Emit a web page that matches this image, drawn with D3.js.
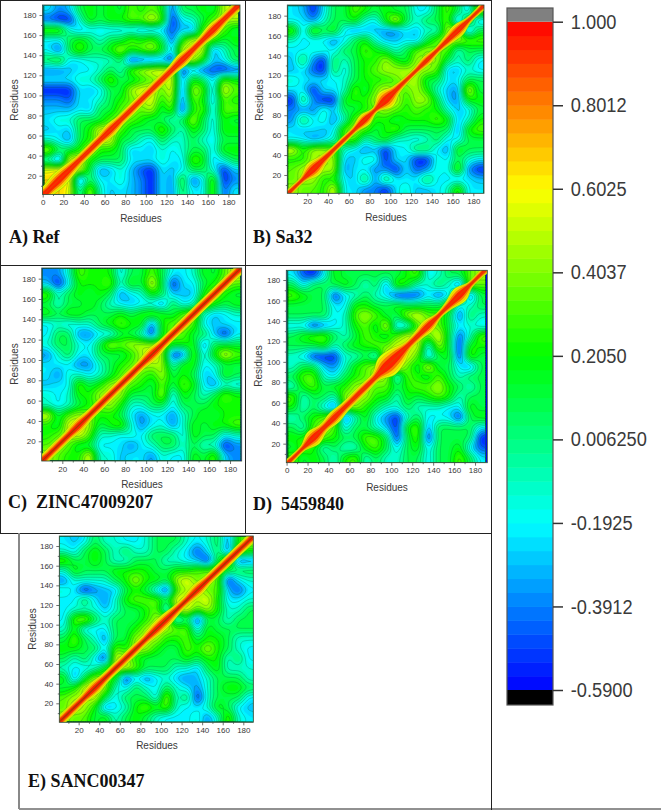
<!DOCTYPE html>
<html>
<head>
<meta charset="utf-8">
<title>Residue cross-correlation maps</title>
<script src="https://cdn.jsdelivr.net/npm/d3@7"></script>
<style>
  html, body { margin: 0; padding: 0; background: #fff; }
  svg { display: block; }
  text { font-family: "Liberation Sans", Arial, sans-serif; fill: #3a3a3a; }
  .caption { font-family: "Liberation Serif", "Times New Roman", serif; font-weight: bold; font-size: 18px; fill: #111; }
  .axis text { font-size: 8px; }
  .axis path, .axis line { stroke: #333; stroke-width: 0.7; }
  .axis-title { font-size: 10px; }
  .rule { stroke: #222; stroke-width: 1; }
</style>
</head>
<body>
<svg id="chart" width="661" height="810" viewBox="0 0 661 810"></svg>
<script>
"use strict";

// shade, one row per 10 residues (1-10 first), lower triangle only
const ref_rows = [
  [6],
  [6,6],
  [5,6,6],
  [0,-4,5,5],
  [4,1,1,2,5],
  [0,-1,-3,1,2,5],
  [-2,-1,-2,1,2,5,4],
  [-1,0,0,1,1,1,3,4],
  [-2,-2,-2,-1,-2,1,1,3,4],
  [-3,-3,-4,-1,-1,0,1,2,3,4],
  [-5,-5,-5,-1,-2,-1,1,1,4,5,5],
  [-1,-1,-1,0,0,1,3,1,1,2,3,4],
  [-3,-3,-2,-1,-1,0,1,0,3,4,5,5,5],
  [1,2,-1,-1,0,0,0,1,-5,-4,-4,-3,-5,4],
  [-1,-4,1,3,1,1,2,4,2,3,4,2,-2,5,4],
  [-1,-1,1,2,1,0,1,1,3,2,3,1,-4,2,5,4],
  [3,3,0,-2,-1,-1,-1,-1,-1,-2,-2,-2,-4,-2,-3,3,5],
  [-4,-5,-5,0,2,1,2,2,3,3,5,3,-5,-1,0,1,3,4],
  [-1,-3,-2,1,2,1,2,1,3,2,3,2,-4,1,1,2,1,4,5]
];
const sa32_rows = [
  [4],
  [3,4],
  [3,4,5],
  [2,2,4,4],
  [5,2,4,4,3],
  [-1,-1,-3,-2,0,3],
  [-1,-2,-1,-2,-1,3,4],
  [-3,1,-1,0,-3,0,3,5],
  [-3,-3,-3,0,-2,1,1,2,3],
  [-5,1,-3,-5,-5,2,2,2,4,5],
  [-1,-1,-5,-1,-1,0,3,1,3,5,3],
  [0,-1,-1,-1,-1,0,1,2,2,2,3,4],
  [-2,-1,-4,-5,1,-1,1,2,3,4,4,4,4],
  [-2,1,-3,-5,1,0,1,2,2,4,2,1,4,3],
  [-1,-1,0,0,-1,1,1,3,2,1,0,1,3,4,3],
  [0,-1,-1,-1,-3,-1,1,2,0,-2,-2,-1,-2,1,3,4],
  [3,-2,3,1,2,-1,-3,-2,-2,-3,-3,-1,-2,0,0,4,4],
  [-1,-1,-3,0,1,1,2,0,-1,2,5,1,0,1,1,3,-3,3],
  [-1,-2,-5,-1,1,1,3,2,1,2,1,1,-1,-1,1,3,1,-2,4]
];
const zinc_rows = [
  [4],
  [3,4],
  [2,3,4],
  [2,1,5,5],
  [5,1,3,4,3],
  [0,-1,0,1,2,3],
  [0,-1,0,2,2,4,4],
  [-2,-1,-1,3,1,2,4,4],
  [-1,-3,0,0,-1,0,1,3,4],
  [-1,-1,-1,-3,-3,0,1,2,3,4],
  [-3,0,1,-1,-1,1,1,1,2,4,5],
  [0,1,1,0,-1,1,4,3,4,4,4,4],
  [-1,1,1,-3,-3,-1,-1,1,1,0,-5,2,3],
  [-1,0,-1,0,0,1,2,3,2,2,-4,2,3,4],
  [2,1,2,2,1,1,1,2,1,2,3,2,1,3,4],
  [1,0,1,1,2,1,0,-1,-2,-1,-1,-3,1,-1,0,4],
  [3,0,1,2,1,2,1,-3,-1,0,2,1,-2,-2,-2,2,4],
  [-2,-5,-1,2,2,2,3,0,2,1,5,1,-5,-1,-1,1,2,4],
  [-3,-3,0,3,2,2,2,-1,1,1,3,1,-1,-1,0,2,1,3,5]
];
const cid_rows = [
  [3],
  [1,3],
  [2,2,5],
  [1,0,3,4],
  [0,1,2,3,5],
  [2,0,1,-1,-4,3],
  [3,0,1,1,0,4,4],
  [0,2,3,1,2,2,4,4],
  [1,3,3,0,-1,1,2,3,4],
  [0,1,1,-2,-3,0,2,3,4,5],
  [0,-1,-5,-5,-5,0,0,1,-1,6,5],
  [1,1,1,2,0,1,2,2,3,3,5,4],
  [1,2,3,3,1,0,1,3,2,1,3,5,4],
  [-1,-1,-5,-3,-1,0,2,3,1,5,-2,-1,3,4],
  [1,1,1,1,-1,0,3,4,3,1,1,4,5,3,3],
  [1,1,1,1,-1,-1,2,2,1,1,2,1,1,1,1,3],
  [3,2,1,1,-5,-1,0,1,0,-1,-5,-5,-4,-1,-4,-1,5],
  [1,-1,1,1,1,2,1,0,1,-3,3,2,0,0,1,0,-4,4],
  [-1,-4,-5,-1,2,1,1,1,1,1,1,2,3,-1,0,1,1,3,4]
];
const sanc_rows = [
  [4],
  [3,5],
  [3,4,4],
  [1,2,5,5],
  [2,-3,1,4,3],
  [0,-1,-1,0,2,4],
  [1,0,1,-1,-5,5,4],
  [2,2,1,1,-1,3,2,4],
  [1,3,1,0,-3,1,1,4,4],
  [0,2,-1,-1,-1,1,1,2,4,5],
  [-1,3,4,1,0,1,1,1,2,4,5],
  [-1,0,0,0,-2,0,1,1,2,3,-1,4],
  [-1,-1,1,-1,-3,0,2,3,3,3,1,5,5],
  [0,-1,-5,-3,-2,-2,1,2,1,-1,-5,3,4,5],
  [-3,0,0,0,0,1,2,4,2,2,1,4,5,3,4],
  [0,2,1,1,1,2,2,2,2,1,1,2,2,3,3,4],
  [3,1,1,2,1,0,0,1,1,1,0,0,-1,-2,-5,1,5],
  [0,-1,1,2,1,0,1,0,0,1,1,0,-1,-4,-1,1,-4,4],
  [-1,-2,-1,1,0,0,-1,-1,0,1,1,1,0,-1,0,1,-3,2,4]
];

// correlation that each shade stands for on the colour bar
const shade_keys = [-5, -4, -3, -2, -1, 0, 1, 2, 3, 4, 5, 6];
const shade_corr = [-0.56, -0.47, -0.38, -0.29, -0.22, -0.12, 0.09, 0.22, 0.34, 0.47, 0.58, 0.68];

// half width of the warm band along the diagonal, residues, one per 10 residues
const ref_ridge  = [4,5,4,3,3,3,4,3,3,3,3,3,3,4,3,3,4,3,3];
const sa32_ridge = [2,2,5,3,2,2,2,4,2,6,3,2,2,3,2,3,4,2,2];
const zinc_ridge = [3,3,3,4,3,3,3,3,3,3,4,3,3,3,3,3,3,3,3];
const cid_ridge  = [2,2,5,3,4,3,3,3,3,7,6,3,3,4,2,3,5,2,2];
const sanc_ridge = [3,3,3,4,3,3,3,3,3,4,4,3,3,4,3,3,3,3,3];

const x_ticks_zero = [0,20,40,60,80,100,120,140,160,180];
const x_ticks = [20,40,60,80,100,120,140,160,180];
const y_ticks = [20,40,60,80,100,120,140,160,180];

const color_stops = [-0.59, -0.1925, 0.205, 0.6025, 1.0];
const color_names = ["#0000ff", "#00ffff", "#00ff00", "#ffff00", "#ff0000"];
const bar_ticks = [1.0, 0.8012, 0.6025, 0.4037, 0.2050, 0.00625, -0.1925, -0.3912, -0.59];
const bar_labels = ["1.000", "0.8012", "0.6025", "0.4037", "0.2050", "0.006250", "-0.1925", "-0.3912", "-0.5900"];

const n_levels = 48;
const upsample = 6;     // grid cells per matrix bin before smoothing
const blur_radius = 2;

var color = d3.scaleLinear().domain(color_stops).range(color_names);
var shade = d3.scaleLinear().domain(shade_keys).range(shade_corr);
var level_step = (color_stops[4] - color_stops[0]) / n_levels;
var levels = d3.range(n_levels).map(i => color_stops[0] + i * level_step);

var svg = d3.select("#chart");
var defs = svg.append("defs");
defs.append("filter").attr("id", "soft")
    .attr("x", "-2%").attr("y", "-2%").attr("width", "104%").attr("height", "104%")
  .append("feGaussianBlur").attr("stdDeviation", 0.35);

// table rules of the figure
const rules = [
  [0, 0.5, 491, 0.5], [0.5, 0, 0.5, 533], [245.5, 0, 245.5, 533],
  [0, 265.5, 491, 265.5], [0, 533.5, 491, 533.5], [491.5, 0, 491.5, 810],
  [19, 809, 661, 809]
];
svg.selectAll(".rule").data(rules).enter().append("line")
    .classed("rule", true)
    .attr("x1", d => d[0]).attr("y1", d => d[1])
    .attr("x2", d => d[2]).attr("y2", d => d[3]);
svg.append("line").attr("x1", 19).attr("x2", 19).attr("y1", 533).attr("y2", 809)
    .attr("stroke", "#888").attr("stroke-width", 2);

function expand(rows) {
  // mirror the triangle, upsample and smooth it
  var n = rows.length, w = n * upsample;
  var values = new Float64Array(w * w);
  for (var j = 0; j < w; j++) {
    for (var i = 0; i < w; i++) {
      var r = Math.floor(j / upsample), c = Math.floor(i / upsample);
      values[j * w + i] = shade(r >= c ? rows[r][c] : rows[c][r]);
    }
  }
  d3.blur2({data: values, width: w, height: w}, blur_radius);
  return {values: values, size: w};
}

function draw_panel(p, idx) {
  var x = d3.scaleLinear().domain(p.x_dom).range(p.x_rng);
  var y = d3.scaleLinear().domain([1, 190]).range(p.y_rng);
  var g = svg.append("g").classed("panel", true);
  var clip_id = "clip" + idx;
  var bx = p.box;

  defs.append("clipPath").attr("id", clip_id).append("rect")
      .attr("x", bx[0]).attr("y", bx[1]).attr("width", bx[2] - bx[0]).attr("height", bx[3] - bx[1]);

  var map_group = g.append("g").attr("clip-path", "url(#" + clip_id + ")")
    .append("g").attr("filter", "url(#soft)");

  map_group.append("rect")
      .attr("x", bx[0]).attr("y", bx[1]).attr("width", bx[2] - bx[0]).attr("height", bx[3] - bx[1])
      .attr("fill", color(color_stops[0]));

  var field = expand(p.rows);
  var to_res = d3.scaleLinear().domain([0, field.size]).range([1, 190]);
  var path = d3.geoPath(d3.geoTransform({
    point: function(a, b) { this.stream.point(x(to_res(a)), y(to_res(b))); }
  }));
  var contours = d3.contours().size([field.size, field.size]).thresholds(levels)(field.values);

  map_group.selectAll(".band").data(contours).enter().append("path")
      .classed("band", true)
      .attr("d", path)
      .attr("fill", d => color(d.value + level_step / 2));

  // contour lines, every second level
  map_group.selectAll(".iso").data(contours.filter((d, i) => i % 2 === 0)).enter().append("path")
      .classed("iso", true)
      .attr("d", path)
      .attr("fill", "none")
      .attr("stroke", "#0b5a2a")
      .attr("stroke-opacity", 0.5)
      .attr("stroke-width", 0.5);

  // warm band along the diagonal, from the widths
  const ridge_values = [0.55, 0.68, 0.82, 0.95];
  const ridge_scale = [1.15, 0.9, 0.65, 0.4];
  var mids = p.ridge.map((w, i) => 1 + 10 * i + 4.5);
  ridge_values.forEach((v, k) => {
    var side_a = mids.map((m, i) => [x(m - p.ridge[i] * ridge_scale[k]), y(m + p.ridge[i] * ridge_scale[k])]);
    var side_b = mids.map((m, i) => [x(m + p.ridge[i] * ridge_scale[k]), y(m - p.ridge[i] * ridge_scale[k])]).reverse();
    var w0 = p.ridge[0] * ridge_scale[k], w1 = p.ridge[18] * ridge_scale[k];
    var pts = [[x(1 - w0), y(1 + w0)]].concat(side_a, [[x(190 - w1), y(190 + w1)], [x(190 + w1), y(190 - w1)]], side_b, [[x(1 + w0), y(1 - w0)]]);
    map_group.append("path")
        .attr("d", d3.line().curve(d3.curveCatmullRomClosed.alpha(0.5))(pts))
        .attr("fill", color(v))
        .attr("stroke", "#3d6a1a")
        .attr("stroke-opacity", k === 0 ? 0.5 : 0.2)
        .attr("stroke-width", 0.5);
  });
  map_group.append("line")
      .attr("x1", x(1)).attr("y1", y(1)).attr("x2", x(190)).attr("y2", y(190))
      .attr("stroke", p.core).attr("stroke-width", 1.2);

  // axes
  var ax = g.append("g").classed("axis", true).attr("transform", "translate(0," + bx[3] + ")");
  ax.call(d3.axisBottom(x).tickValues(p.x_ticks).tickSize(3).tickPadding(2));
  var ax2 = g.append("g").classed("axis", true).attr("transform", "translate(0," + bx[3] + ")");
  ax2.call(d3.axisBottom(x).tickValues(d3.range(10, 190, 20)).tickSize(1.5).tickFormat(""));
  var ay = g.append("g").classed("axis", true).attr("transform", "translate(" + bx[0] + ",0)");
  ay.call(d3.axisLeft(y).tickValues(y_ticks).tickSize(3).tickPadding(3));
  var ay2 = g.append("g").classed("axis", true).attr("transform", "translate(" + bx[0] + ",0)");
  ay2.call(d3.axisLeft(y).tickValues(d3.range(10, 190, 20)).tickSize(1.5).tickFormat(""));
  g.selectAll(".axis .domain").remove();
  g.append("rect")
      .attr("x", bx[0]).attr("y", bx[1]).attr("width", bx[2] - bx[0]).attr("height", bx[3] - bx[1])
      .attr("fill", "none").attr("stroke", "#2c4a34").attr("stroke-width", 0.8);

  g.append("text").classed("axis-title", true)
      .attr("x", p.x_title[0]).attr("y", p.x_title[1])
      .attr("text-anchor", "middle").text("Residues");
  g.append("text").classed("axis-title", true)
      .attr("transform", "translate(" + p.y_title[0] + "," + p.y_title[1] + ") rotate(-90)")
      .attr("text-anchor", "middle").attr("dy", "0.35em").text("Residues");
  g.append("text").classed("caption", true)
      .attr("x", p.cap[0]).attr("y", p.cap[1])
      .attr("xml:space", "preserve").style("white-space", "pre").text(p.name);
}

var panels = [
  {name: "A) Ref", rows: ref_rows, ridge: ref_ridge, core: "#f03a00", x_ticks: x_ticks_zero,
   x_dom: [0, 190], x_rng: [42.7, 238.7], y_rng: [194.8, 5], box: [42.5, 5, 240, 194.5],
   x_title: [141, 222], y_title: [14.7, 100], cap: [9, 243]},
  {name: "B) Sa32", rows: sa32_rows, ridge: sa32_ridge, core: "#e83a00", x_ticks: x_ticks,
   x_dom: [1, 190], x_rng: [287.6, 483.7], y_rng: [193.9, 5.7], box: [287.3, 5, 484, 193.3],
   x_title: [386, 221], y_title: [259.7, 100], cap: [253, 243]},
  {name: "C)  ZINC47009207", rows: zinc_rows, ridge: zinc_ridge, core: "#a83800", x_ticks: x_ticks,
   x_dom: [1, 190], x_rng: [42.4, 240.5], y_rng: [460.6, 268.5], box: [41.7, 268, 241.7, 461],
   x_title: [142, 488], y_title: [14, 364], cap: [8, 508]},
  {name: "D)  5459840", rows: cid_rows, ridge: cid_ridge, core: "#e83a00", x_ticks: x_ticks_zero,
   x_dom: [0, 190], x_rng: [286.6, 485.5], y_rng: [463.1, 269.8], box: [286.3, 270.3, 487.3, 462.7],
   x_title: [387, 491], y_title: [258, 366], cap: [253, 510]},
  {name: "E) SANC00347", rows: sanc_rows, ridge: sanc_ridge, core: "#a83800", x_ticks: x_ticks,
   x_dom: [1, 190], x_rng: [59.1, 253.6], y_rng: [722, 536.2], box: [59.3, 536, 253.3, 722.3],
   x_title: [157, 749], y_title: [32, 629], cap: [28, 787]}
];
panels.forEach(draw_panel);

// colour bar
var bar_y = d3.scaleLinear().domain([color_stops[0], color_stops[4]]).range([690, 21.7]);
var bar = svg.append("g").classed("colorbar", true);
bar.selectAll(".step").data(levels).enter().append("rect")
    .classed("step", true)
    .attr("x", 507).attr("width", 46)
    .attr("y", d => bar_y(d + level_step))
    .attr("height", d => bar_y(d) - bar_y(d + level_step) + 0.5)
    .attr("fill", d => color(d + level_step / 2));
bar.append("rect").attr("x", 507).attr("width", 46).attr("y", 8).attr("height", bar_y(1) - 8).attr("fill", "#808080");
bar.append("rect").attr("x", 507).attr("width", 46).attr("y", bar_y(-0.59)).attr("height", 15).attr("fill", "#000");
bar.append("rect").attr("x", 507).attr("width", 46).attr("y", 8).attr("height", 697)
    .attr("fill", "none").attr("stroke", "#555").attr("stroke-width", 1.2);

var bar_axis = bar.append("g").attr("transform", "translate(553,0)")
    .call(d3.axisRight(bar_y).tickValues(bar_ticks).tickSize(10).tickPadding(8)
      .tickFormat((d, i) => bar_labels[i]));
bar_axis.select(".domain").remove();
bar_axis.selectAll("line").attr("stroke", "#333").attr("stroke-width", 1.5);
bar_axis.selectAll("text")
    .style("font-size", "20.5px")
    .attr("x", 20)
    .attr("transform", "scale(0.89,1)");
</script>
</body>
</html>
